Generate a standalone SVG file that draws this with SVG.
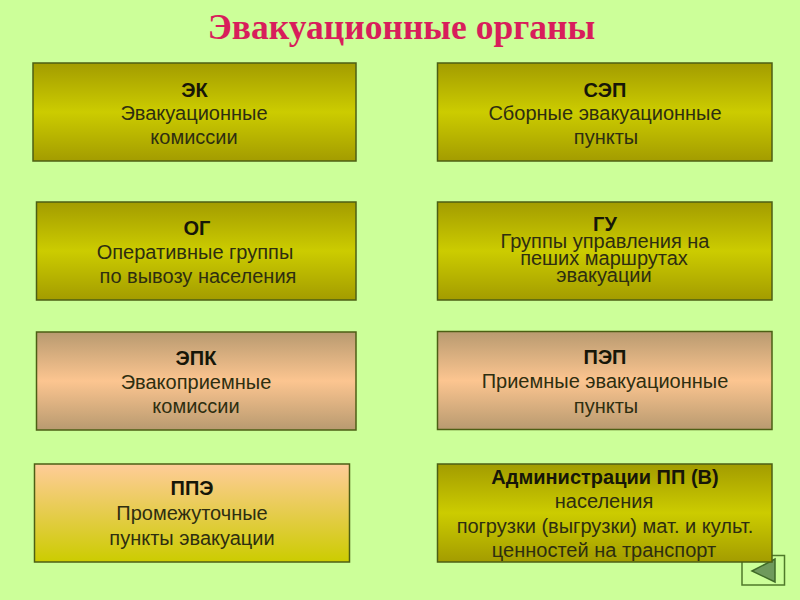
<svg xmlns="http://www.w3.org/2000/svg" width="800" height="600" viewBox="0 0 800 600">
<style>
.box{stroke:#4c5f14;stroke-width:1.5}
.t{font-family:"Liberation Sans",Arial,sans-serif;font-size:20px;fill:#2e2e10;text-anchor:middle}
.b{font-weight:bold;fill:#161608}
.title{font-family:"Liberation Serif","Times New Roman",serif;font-size:35.500px;font-weight:bold;fill:#d81e5b;text-anchor:middle}
</style>
<defs>
<linearGradient id="olive" x1="0" y1="0" x2="0" y2="1"><stop offset="0" stop-color="#a39c00"/><stop offset=".5" stop-color="#cccc00"/><stop offset="1" stop-color="#a39c00"/></linearGradient>
<linearGradient id="tan" x1="0" y1="0" x2="0" y2="1"><stop offset="0" stop-color="#b89a70"/><stop offset=".5" stop-color="#fcc590"/><stop offset="1" stop-color="#b89a70"/></linearGradient>
<linearGradient id="peach" x1="0" y1="0" x2="0" y2="1"><stop offset="0" stop-color="#ffcc99"/><stop offset="1" stop-color="#cccc00"/></linearGradient>
</defs>
<rect width="800" height="600" fill="#ccff99"/>
<text class="title" x="401.500" y="39">Эвакуационные органы</text>
<g id="nav"><rect x="742" y="555.500" width="42.500" height="29.500" fill="none" stroke="#4f7a2a" stroke-width="1.500"/><polygon points="752,571 775,559 775,582" fill="#6f9a5c" stroke="#3f6a28" stroke-width="1.500"/></g>
<g id="ek"><rect class="box" x="33" y="63" width="323" height="98" fill="url(#olive)"/><text class="t b" x="194.500" y="97">ЭК</text><text class="t" x="194" y="120">Эвакуационные</text><text class="t" x="194" y="144">комиссии</text></g>
<g id="sep"><rect class="box" x="437.500" y="63" width="334.500" height="98" fill="url(#olive)"/><text class="t b" x="605" y="97">СЭП</text><text class="t" x="605" y="120">Сборные эвакуационные</text><text class="t" x="606" y="144">пункты</text></g>
<g id="og"><rect class="box" x="36.500" y="202" width="319.500" height="98" fill="url(#olive)"/><text class="t b" x="197" y="235">ОГ</text><text class="t" x="195" y="259">Оперативные группы</text><text class="t" x="198" y="283">по вывозу населения</text></g>
<g id="gu"><rect class="box" x="437.500" y="202" width="334.500" height="98" fill="url(#olive)"/><text class="t b" x="605" y="231">ГУ</text><text class="t" x="605" y="248">Группы управления на</text><text class="t" x="604" y="265">пеших маршрутах</text><text class="t" x="604" y="282">эвакуации</text></g>
<g id="epk"><rect class="box" x="36.500" y="332" width="319.500" height="98" fill="url(#tan)"/><text class="t b" x="196" y="365">ЭПК</text><text class="t" x="196" y="389">Эвакоприемные</text><text class="t" x="196" y="413">комиссии</text></g>
<g id="pep"><rect class="box" x="437.500" y="331.500" width="334.500" height="98" fill="url(#tan)"/><text class="t b" x="605" y="364">ПЭП</text><text class="t" x="605" y="388">Приемные эвакуационные</text><text class="t" x="606" y="413">пункты</text></g>
<g id="ppe"><rect class="box" x="34.500" y="464" width="315" height="98" fill="url(#peach)"/><text class="t b" x="192" y="495">ППЭ</text><text class="t" x="192" y="520">Промежуточные</text><text class="t" x="192" y="545">пункты эвакуации</text></g>
<g id="adm"><rect class="box" x="437.500" y="464" width="334.500" height="98" fill="url(#olive)"/><text class="t b" x="605" y="484">Администрации ПП (В)</text><text class="t" x="604" y="508">населения</text><text class="t" x="605" y="533">погрузки (выгрузки) мат. и культ.</text><text class="t" x="604" y="557">ценностей на транспорт</text></g>
</svg>
